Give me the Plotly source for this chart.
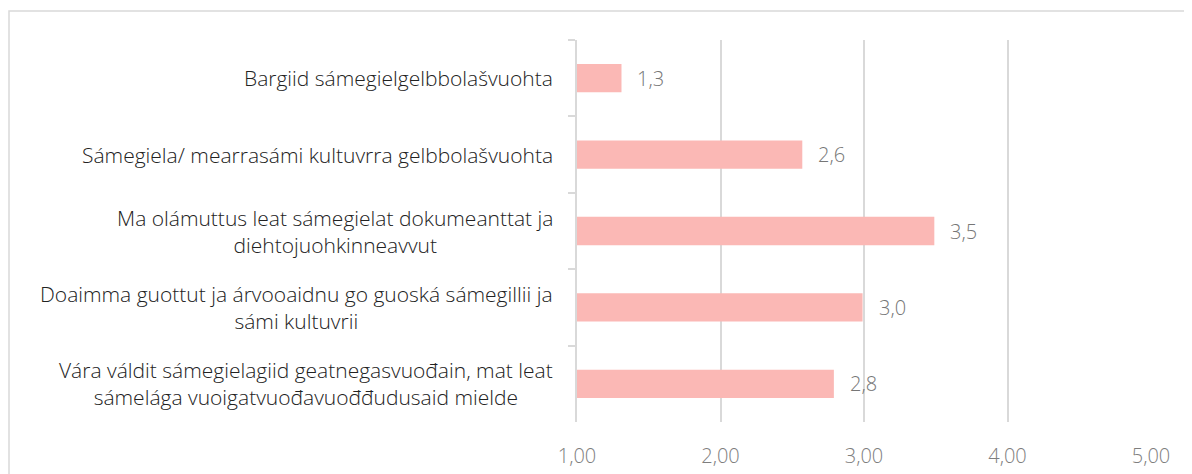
import plotly.graph_objects as go

categories = [
    "Bargiid sámegielgelbbolašvuohta",
    "Sámegiela/ mearrasámi kultuvrra gelbbolašvuohta",
    "Ma olámuttus leat sámegielat dokumeanttat ja<br>diehtojuohkinneavvut",
    "Doaimma guottut ja árvooaidnu go guoská sámegillii ja<br>sámi kultuvrii",
    "Vára váldit sámegielagiid geatnegasvuođain, mat leat<br>sámelága vuoigatvuođavuođđudusaid mielde",
]
values = [1.31, 2.57, 3.49, 2.99, 2.79]
x_ticks = [1, 2, 3, 4, 5]

FONT = "Open Sans"
OFF = 8  # page body margin
W, H = 1192, 474
L, R, T, B = 577 - OFF, 1192 - (1151 - OFF), 40 - OFF, 474 - (422 - OFF)

fig = go.Figure()
fig.add_trace(go.Bar(
    y=categories, x=values, orientation="h",
    marker=dict(color="#FBB8B5", line=dict(width=0)),
    width=0.37, hoverinfo="skip",
))

annotations = []
for c, v in zip(categories, values):
    annotations.append(dict(
        x=v, y=c, xref="x", yref="y", text=f"{v:.1f}".replace(".", ","),
        showarrow=False, xanchor="left", yanchor="middle", xshift=14,
        font=dict(family=FONT, size=20, color="#767676", weight=300),
    ))
    annotations.append(dict(
        x=0, y=c, xref="paper", yref="y", text=c,
        showarrow=False, xanchor="right", yanchor="middle", xshift=-22,
        align="center",
        font=dict(family=FONT, size=21, color="#222222", weight=300),
    ))

pw = W - L - R
ph = H - T - B
fx = lambda p: (p - OFF - L) / pw
fy = lambda p: (ph - (p - OFF - T)) / ph
fig.add_shape(
    type="rect", xref="paper", yref="paper",
    x0=fx(9), x1=fx(W + 20),
    y0=fy(H + 20), y1=fy(11),
    line=dict(color="#D9D9D9", width=1.5), fillcolor="rgba(0,0,0,0)", layer="below",
)

fig.update_layout(
    width=W, height=H,
    margin=dict(l=L, r=R, t=T, b=B),
    paper_bgcolor="white", plot_bgcolor="white",
    separators=",.",
    showlegend=False,
    annotations=annotations,
    xaxis=dict(
        range=[1, 5], tickvals=x_ticks, tickformat=".2f",
        showgrid=True, gridcolor="#D9D9D9", gridwidth=1.5,
        zeroline=False, showline=False,
        tickfont=dict(family=FONT, size=20, color="#7E7E7E", weight=300),
        ticks="", ticklabelstandoff=20,
    ),
    yaxis=dict(
        autorange="reversed", showticklabels=False,
        showline=True, linecolor="#D9D9D9", linewidth=1.5,
        ticks="outside", tickson="boundaries", ticklen=7, tickcolor="#D9D9D9", tickwidth=1.5,
        showgrid=False, zeroline=False,
    ),
)

fig.write_html("out.html")
